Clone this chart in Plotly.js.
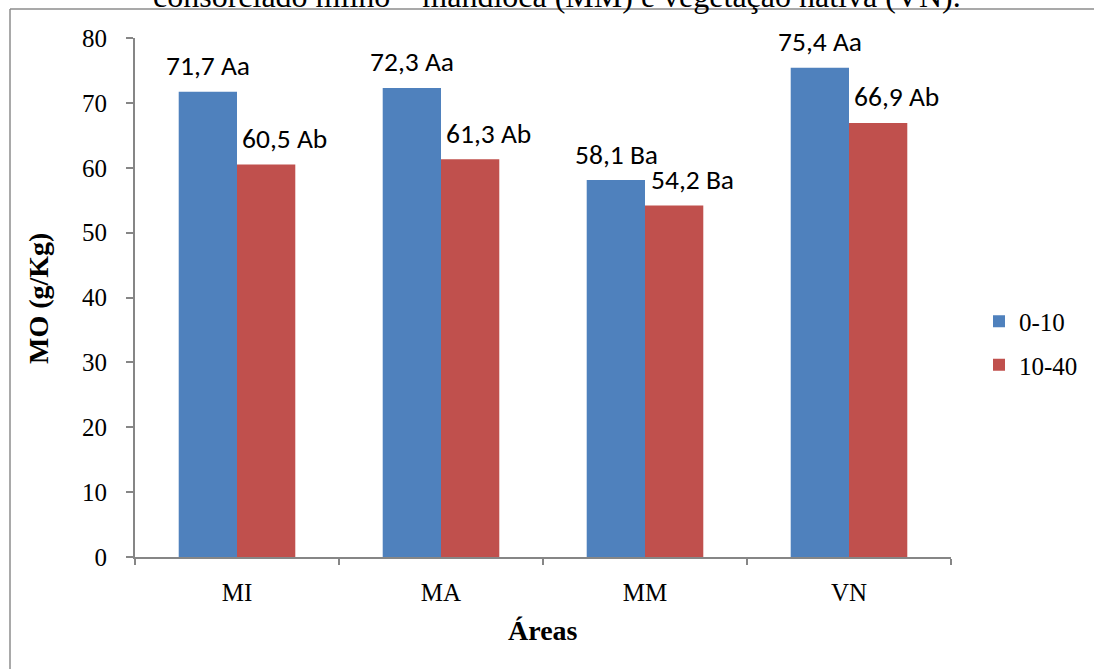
<!DOCTYPE html>
<html>
<head>
<meta charset="utf-8">
<script src="https://cdn.plot.ly/plotly-3.0.1.min.js"></script>
<style>
  html, body { margin: 0; padding: 0; background: #fff; }
  #chart { width: 1094px; height: 669px; }
</style>
</head>
<body>
<div id="chart"></div>
<script>
// Soil organic matter (MO) per area and depth
const areas = ['MI', 'MA', 'MM', 'VN'];
const depthNames = ['0-10', '10-40'];
const mo0_10 = [71.7, 72.3, 58.1, 75.4];
const mo10_40 = [60.5, 61.3, 54.2, 66.9];
const letters0_10 = ['Aa', 'Aa', 'Ba', 'Aa'];
const letters10_40 = ['Ab', 'Ab', 'Ba', 'Ab'];
const yTicks = [0, 10, 20, 30, 40, 50, 60, 70, 80];

const serif = '"Liberation Serif", "Times New Roman", serif';
const sans = 'Carlito, Calibri, Lato, sans-serif';
const axisGray = '#868686';

// plot area in pixels: x 135..951, y 38..557
const W = 1094, H = 669, L = 135, R = 951, T = 38, B = 557;
const px = v => (v - L) / (R - L);
const py = v => (B - v) / (B - T);

const fmt = v => v.toFixed(1).replace('.', ',');

const traces = [
  { type: 'bar', name: depthNames[0], x: areas, y: mo0_10,
    marker: { color: '#4F81BD' }, legendgroup: 'a', hoverinfo: 'x+y' },
  { type: 'bar', name: depthNames[1], x: areas, y: mo10_40,
    marker: { color: '#C0504D' }, legendgroup: 'b', hoverinfo: 'x+y' }
];

const labelFont = { family: sans, size: 27.5, color: '#000' };
const labels = [];
areas.forEach((a, i) => {
  labels.push({ x: a, y: mo0_10[i], xref: 'x', yref: 'y', text: fmt(mo0_10[i]) + ' ' + letters0_10[i],
    showarrow: false, xshift: -29, yshift: 26, yanchor: 'middle', xanchor: 'center', font: labelFont });
  labels.push({ x: a, y: mo10_40[i], xref: 'x', yref: 'y', text: fmt(mo10_40[i]) + ' ' + letters10_40[i],
    showarrow: false, xshift: 47, yshift: 26, yanchor: 'middle', xanchor: 'center', font: labelFont });
});

const textNotes = [
  // caption line of the surrounding document
  { text: 'consorciado milho – mandioca (MM) e vegetação nativa (VN).', xref: 'paper', yref: 'paper',
    x: px(557), y: py(-4), showarrow: false, xanchor: 'center', yanchor: 'middle',
    font: { family: serif, size: 32, color: '#000' } },
  { text: '<b>MO (g/Kg)</b>', xref: 'paper', yref: 'paper', x: px(38), y: py(299), textangle: -90,
    showarrow: false, xanchor: 'center', yanchor: 'middle', font: { family: serif, size: 28, color: '#000' } },
  { text: '<b>Áreas</b>', xref: 'paper', yref: 'paper', x: px(543), y: py(630),
    showarrow: false, xanchor: 'center', yanchor: 'middle', font: { family: serif, size: 28, color: '#000' } }
];

const frame = [
  { type: 'line', xref: 'paper', yref: 'paper', x0: px(10), x1: px(10), y0: py(9), y1: py(H + 5),
    line: { color: '#8c8c8c', width: 1.5 } },
  { type: 'line', xref: 'paper', yref: 'paper', x0: px(10), x1: px(W + 5), y0: py(9), y1: py(9),
    line: { color: '#8c8c8c', width: 1.5 } }
];

const layout = {
  width: W, height: H,
  margin: { l: L, r: W - R, t: T, b: H - B, pad: 0, autoexpand: false },
  paper_bgcolor: '#fff', plot_bgcolor: 'rgba(0,0,0,0)',
  barmode: 'group', bargap: 1.5 / 3.5, bargroupgap: 0,
  showlegend: true,
  legend: { x: px(979), y: py(343), xanchor: 'left', yanchor: 'middle',
    font: { family: serif, size: 25, color: '#000' }, traceorder: 'grouped', tracegroupgap: 8,
    bgcolor: 'rgba(0,0,0,0)' },
  xaxis: { type: 'category', showline: true, linecolor: axisGray, linewidth: 2, showgrid: false,
    ticks: 'outside', tickson: 'boundaries', ticklen: 6, tickcolor: axisGray, tickwidth: 2,
    ticklabelstandoff: 12, tickfont: { family: serif, size: 25, color: '#000' }, fixedrange: true },
  yaxis: { range: [0, 80], tickvals: yTicks, showline: true, linecolor: axisGray, linewidth: 2,
    showgrid: false, zeroline: false, ticks: 'outside', ticklen: 7, tickcolor: axisGray, tickwidth: 2,
    ticklabelstandoff: 14, tickfont: { family: serif, size: 25, color: '#000' }, fixedrange: true },
  annotations: labels.concat(textNotes),
  shapes: frame
};

Plotly.newPlot('chart', traces, layout, { displayModeBar: false, staticPlot: true });
</script>
</body>
</html>
